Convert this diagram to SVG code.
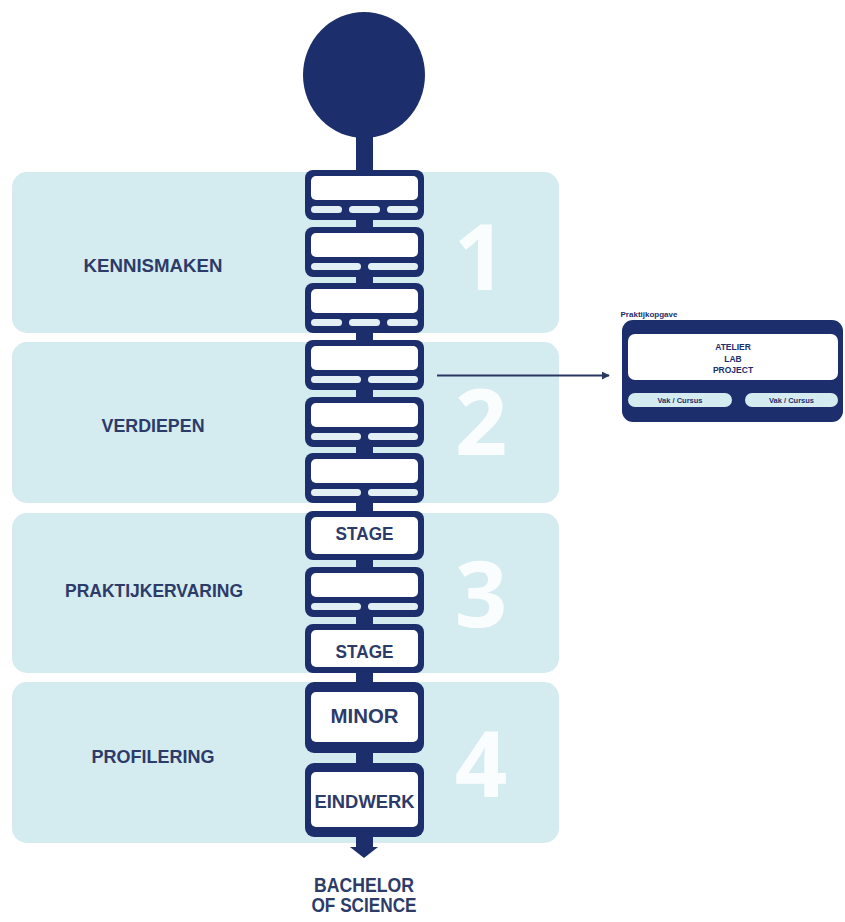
<svg xmlns="http://www.w3.org/2000/svg" xmlns:xlink="http://www.w3.org/1999/xlink" width="845" height="922" viewBox="0 0 845 922">
<style>
.panel{fill:#d4ebf0}
.navy{fill:#1c2e6b}
.in{fill:#ffffff}
.pill{fill:#e2eff4}
.lbl{font-family:"Liberation Sans",Arial,sans-serif;font-weight:bold;fill:#2c3b68;text-anchor:middle}
.num{font-family:"Open Sans","Liberation Sans",sans-serif;font-weight:700;font-size:92px;fill:#ffffff;fill-opacity:0.88;text-anchor:middle}
.small{font-family:"Liberation Sans",Arial,sans-serif;font-weight:bold;fill:#1c2e6b;text-anchor:middle}
.conn{fill:#1c2e6b}
</style>
<defs>
<g id="blk3">
<rect width="119" height="50" rx="8" class="navy"/>
<rect x="6" y="6" width="107" height="24" rx="5" class="in"/>
<rect x="6" y="36" width="31" height="7" rx="3.5" class="pill"/>
<rect x="44" y="36" width="31" height="7" rx="3.5" class="pill"/>
<rect x="82" y="36" width="31" height="7" rx="3.5" class="pill"/>
</g>
<g id="blk2">
<rect width="119" height="50" rx="8" class="navy"/>
<rect x="6" y="6" width="107" height="24" rx="5" class="in"/>
<rect x="6" y="36" width="50" height="7" rx="3.5" class="pill"/>
<rect x="63" y="36" width="50" height="7" rx="3.5" class="pill"/>
</g>
<g id="blkS">
<rect width="119" height="49" rx="8" class="navy"/>
<rect x="6" y="6" width="107" height="37" rx="5" class="in"/>
</g>
<marker id="ah" viewBox="0 0 10 10" refX="9" refY="5" markerWidth="4" markerHeight="4" orient="auto" markerUnits="strokeWidth">
<path d="M0,0 L10,5 L0,10 z" fill="#2a3760"/>
</marker>
</defs>

<rect width="845" height="922" fill="#ffffff"/>

<g id="phase-1">
<rect x="12" y="172" width="547" height="161" rx="15" class="panel"/>
<text x="153" y="272" font-size="18" textLength="139" lengthAdjust="spacingAndGlyphs" class="lbl">KENNISMAKEN</text>
<text x="480" y="290" class="num">1</text>
</g>
<g id="phase-2">
<rect x="12" y="342" width="547" height="161" rx="15" class="panel"/>
<text x="153" y="432" font-size="18" textLength="103" lengthAdjust="spacingAndGlyphs" class="lbl">VERDIEPEN</text>
<text x="481" y="455" class="num">2</text>
</g>
<g id="phase-3">
<rect x="12" y="513" width="547" height="160" rx="15" class="panel"/>
<text x="154" y="597" font-size="18" textLength="178" lengthAdjust="spacingAndGlyphs" class="lbl">PRAKTIJKERVARING</text>
<text x="481" y="627" class="num">3</text>
</g>
<g id="phase-4">
<rect x="12" y="682" width="547" height="161" rx="15" class="panel"/>
<text x="153" y="763" font-size="18" textLength="123" lengthAdjust="spacingAndGlyphs" class="lbl">PROFILERING</text>
<text x="481" y="797" class="num">4</text>
</g>

<g id="connectors">
<rect x="356" y="130" width="17" height="44" class="conn"/>
<rect x="356" y="218" width="17" height="11" class="conn"/>
<rect x="356" y="275" width="17" height="10" class="conn"/>
<rect x="356" y="331" width="17" height="11" class="conn"/>
<rect x="356" y="388" width="17" height="11" class="conn"/>
<rect x="356" y="445" width="17" height="10" class="conn"/>
<rect x="356" y="501" width="17" height="12" class="conn"/>
<rect x="356" y="558" width="17" height="11" class="conn"/>
<rect x="356" y="615" width="17" height="11" class="conn"/>
<rect x="356" y="671" width="17" height="12" class="conn"/>
<rect x="356" y="751" width="17" height="14" class="conn"/>
<rect x="356" y="835" width="17" height="13" class="conn"/>
<polygon points="350,847 378,847 364,858" class="conn"/>
<line x1="437" y1="375.5" x2="609" y2="375.5" stroke="#2a3760" stroke-width="2" marker-end="url(#ah)"/>
</g>

<g id="start">
<ellipse cx="364" cy="75" rx="61" ry="63" class="navy"/>
</g>

<g id="block-1"><use xlink:href="#blk3" x="305" y="170"/></g>
<g id="block-2"><use xlink:href="#blk2" x="305" y="227"/></g>
<g id="block-3"><use xlink:href="#blk3" x="305" y="283"/></g>
<g id="block-4"><use xlink:href="#blk2" x="305" y="340"/></g>
<g id="block-5"><use xlink:href="#blk2" x="305" y="397"/></g>
<g id="block-6"><use xlink:href="#blk2" x="305" y="453"/></g>
<g id="block-stage-1"><use xlink:href="#blkS" x="305" y="511"/>
<text x="364.5" y="540" font-size="19" textLength="58" lengthAdjust="spacingAndGlyphs" class="lbl">STAGE</text></g>
<g id="block-8"><use xlink:href="#blk2" x="305" y="567"/></g>
<g id="block-stage-2"><use xlink:href="#blkS" x="305" y="624"/>
<text x="364.5" y="658" font-size="19" textLength="58" lengthAdjust="spacingAndGlyphs" class="lbl">STAGE</text></g>
<g id="block-minor">
<rect x="305" y="682" width="119" height="71" rx="9" class="navy"/>
<rect x="311" y="692" width="107" height="50" rx="5" class="in"/>
<text x="364.5" y="723" font-size="20" textLength="68" lengthAdjust="spacingAndGlyphs" class="lbl">MINOR</text>
</g>
<g id="block-eindwerk">
<rect x="305" y="763" width="119" height="74" rx="9" class="navy"/>
<rect x="311" y="772" width="107" height="55" rx="5" class="in"/>
<text x="364.5" y="808" font-size="19" textLength="100" lengthAdjust="spacingAndGlyphs" class="lbl">EINDWERK</text>
</g>

<g id="end">
<text x="364" y="892" font-size="20" textLength="100" lengthAdjust="spacingAndGlyphs" class="lbl">BACHELOR</text>
<text x="364" y="912" font-size="20" textLength="105" lengthAdjust="spacingAndGlyphs" class="lbl">OF SCIENCE</text>
</g>

<g id="praktijkopgave">
<text x="649" y="317" font-size="8" class="small">Praktijkopgave</text>
<rect x="622" y="320" width="221" height="102" rx="11" class="navy"/>
<rect x="628" y="334" width="210" height="46" rx="7" class="in"/>
<text x="733" y="350" font-size="8.5" class="small">ATELIER</text>
<text x="733" y="362" font-size="8.5" class="small">LAB</text>
<text x="733" y="373" font-size="8.5" class="small">PROJECT</text>
<rect x="628" y="393" width="104" height="14" rx="7" class="pill" style="fill:#d4ebf0"/>
<rect x="745" y="393" width="93" height="14" rx="7" class="pill" style="fill:#d4ebf0"/>
<text x="680" y="403" font-size="7.5" class="small">Vak / Cursus</text>
<text x="791.5" y="403" font-size="7.5" class="small">Vak / Cursus</text>
</g>
</svg>
